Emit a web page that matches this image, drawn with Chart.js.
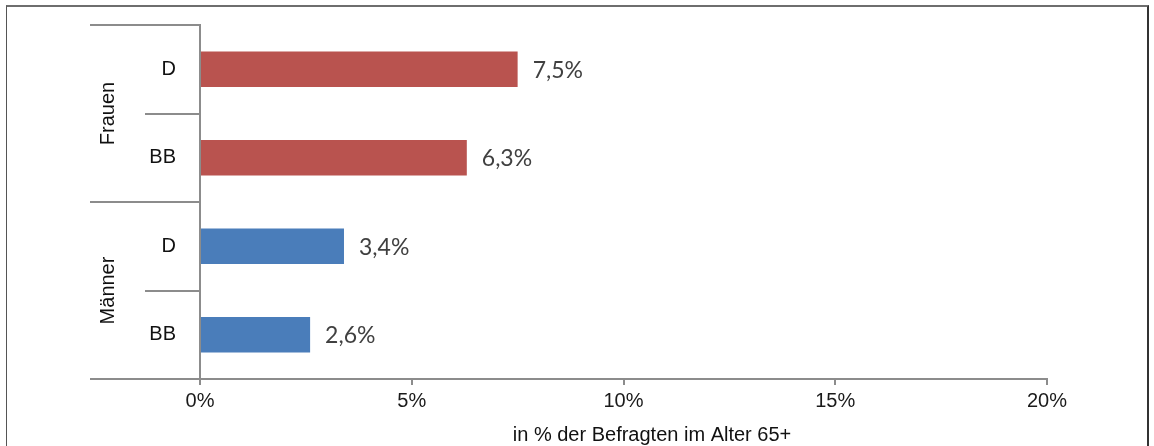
<!DOCTYPE html>
<html>
<head>
<meta charset="utf-8">
<script src="https://cdn.jsdelivr.net/npm/chart.js@4"></script>
<style>
  html, body { margin: 0; padding: 0; background: #fff; overflow: hidden; }
  #wrap { position: relative; width: 1154px; height: 446px; }
  #frame {
    position: absolute; left: 6px; top: 5px; width: 1140px; height: 470px;
    border-top: 2px solid #6e6e6e; border-left: 1px solid #555; border-right: 2px solid #333;
  }
  canvas { position: absolute; left: 0; top: 0; }
</style>
</head>
<body>
<div id="wrap">
  <div id="frame"></div>
  <canvas id="chart" width="1154" height="446"></canvas>
</div>
<script>
// data
const groups = ['Frauen', 'Männer'];
const categories = ['D', 'BB', 'D', 'BB'];
const groupIndex = [0, 0, 1, 1];
const values = [7.5, 6.3, 3.4, 2.6];
const valueLabels = ['7,5%', '6,3%', '3,4%', '2,6%'];
const tickValues = [0, 5, 10, 15, 20];
const axisTitle = 'in % der Befragten im Alter 65+';

const groupColors = ['#B9534F', '#4A7DBA'];
const lineColor = '#8c8c8c';
const axisFont = 'Liberation Sans';

// separators, group labels, value labels and axis title
const extras = {
  id: 'extras',
  afterDraw(chart) {
    const ctx = chart.ctx;
    const y = chart.scales.y;
    const area = chart.chartArea;
    const band = (y.bottom - y.top) / categories.length;

    ctx.save();
    ctx.strokeStyle = lineColor;
    ctx.lineWidth = 2;
    for (let i = 0; i <= categories.length; i++) {
      const py = Math.round(y.top + i * band);
      const long = i === 0 || i === categories.length || groupIndex[i] !== groupIndex[i - 1];
      ctx.beginPath();
      ctx.moveTo(long ? 90 : 145, py);
      ctx.lineTo(area.left, py);
      ctx.stroke();
    }

    // group labels rotated
    ctx.fillStyle = '#111';
    ctx.font = '20px "' + axisFont + '"';
    ctx.textAlign = 'center';
    ctx.textBaseline = 'middle';
    groups.forEach((g, gi) => {
      const idx = groupIndex.map((v, i) => v === gi ? i : -1).filter(i => i >= 0);
      const top = y.top + idx[0] * band;
      const bottom = y.top + (idx[idx.length - 1] + 1) * band;
      ctx.save();
      ctx.translate(108, (top + bottom) / 2);
      ctx.rotate(-Math.PI / 2);
      ctx.fillText(g, 0, 0);
      ctx.restore();
    });

    // value labels
    ctx.fillStyle = '#404040';
    ctx.font = '23px Lato';
    ctx.textAlign = 'left';
    const meta = chart.getDatasetMeta(0);
    meta.data.forEach((bar, i) => {
      ctx.fillText(valueLabels[i], bar.x + 15, bar.y + 1);
    });

    // axis title, squeezed like a narrow face
    ctx.fillStyle = '#111';
    ctx.font = '20px "' + axisFont + '"';
    ctx.textAlign = 'center';
    const w = ctx.measureText(axisTitle).width;
    const sx = Math.min(1, 308 / w);
    ctx.save();
    ctx.translate(652, 435);
    ctx.scale(sx, 1);
    ctx.fillText(axisTitle, 0, 0);
    ctx.restore();
    ctx.restore();
  }
};

new Chart(document.getElementById('chart'), {
  type: 'bar',
  data: {
    labels: categories,
    datasets: [{
      data: values,
      backgroundColor: groupIndex.map(g => groupColors[g]),
      barPercentage: 0.4,
      categoryPercentage: 1
    }]
  },
  options: {
    responsive: false,
    animation: false,
    indexAxis: 'y',
    layout: { padding: { top: 25, right: 107, left: 0, bottom: 0 } },
    plugins: { legend: { display: false }, tooltip: { enabled: false } },
    scales: {
      x: {
        min: tickValues[0],
        max: tickValues[tickValues.length - 1],
        afterBuildTicks: s => { s.ticks = tickValues.map(v => ({ value: v })); },
        ticks: {
          callback: v => v + '%',
          font: { family: axisFont, size: 20 },
          color: '#1a1a1a',
          padding: 4,
          maxRotation: 0
        },
        grid: { drawOnChartArea: false, drawTicks: true, tickLength: 6, color: lineColor, lineWidth: 2 },
        border: { color: lineColor, width: 2 },
        afterFit: s => { s.height = 67; }
      },
      y: {
        ticks: {
          font: { family: axisFont, size: 20 },
          color: '#111',
          padding: 24
        },
        grid: { drawOnChartArea: false, drawTicks: false },
        border: { color: lineColor, width: 2 },
        afterFit: s => { s.width = 200; s.paddingTop = 0; s.paddingBottom = 0; }
      }
    }
  },
  plugins: [extras]
});
</script>
</body>
</html>
